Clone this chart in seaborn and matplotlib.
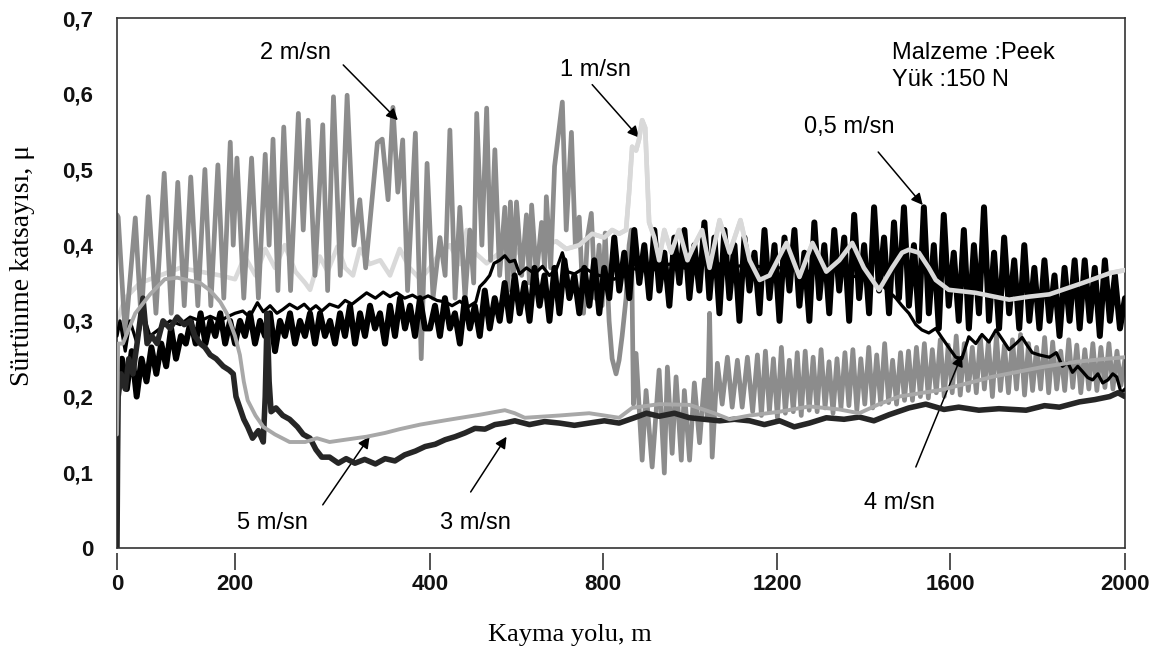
import numpy as np
import pandas as pd
import matplotlib
matplotlib.use("Agg")
import matplotlib.pyplot as plt
import seaborn as sns

# ---------------- axis definitions ----------------
x_ticks = [0, 200, 400, 800, 1200, 1600, 2000]
x_tick_labels = ["0", "200", "400", "800", "1200", "1600", "2000"]
# relative spacing of the printed x ticks (the source axis is not uniform)
x_tick_spacing = [0, 118, 313, 486, 660, 833, 1008]
y_ticks = [0, 0.1, 0.2, 0.3, 0.4, 0.5, 0.6, 0.7]
y_tick_labels = ["0", "0,1", "0,2", "0,3", "0,4", "0,5", "0,6", "0,7"]

# ---------------- series: 5 m/sn ----------------
x_5 = [0, 2, 10, 31, 56, 81, 102, 141, 158, 175, 186, 200, 205, 209, 213, 221, 229, 241, 256, 272,
       284, 297, 313, 335, 354, 369, 390, 439, 515, 573, 596, 619, 699, 768, 803, 837, 867, 929, 999, 1056,
       1091, 1137, 1206, 1275, 1344, 1390, 1436, 1482, 1581, 1643, 1696, 1758, 1811, 1889, 1942, 2000]
y_5 = [0.15, 0.27, 0.27, 0.31, 0.335, 0.355, 0.357, 0.35, 0.34, 0.325, 0.31, 0.28, 0.255, 0.22, 0.195, 0.175, 0.16, 0.15, 0.14, 0.14,
       0.145, 0.14, 0.143, 0.147, 0.152, 0.157, 0.163, 0.169, 0.176, 0.182, 0.178, 0.172, 0.175, 0.178, 0.175, 0.172, 0.185, 0.19, 0.189, 0.178,
       0.17, 0.175, 0.18, 0.187, 0.183, 0.178, 0.19, 0.2, 0.209, 0.218, 0.226, 0.233, 0.239, 0.246, 0.249, 0.252]

# ---------------- series: 3 m/sn ----------------
x_3 = [0, 1, 2, 7, 14, 20, 27, 34, 44, 51, 59, 68, 78, 90, 102, 114, 124, 132, 141, 149,
       158, 168, 180, 190, 197, 201, 205, 209, 213, 218, 224, 229, 231, 233, 235, 237, 242, 249, 256, 264,
       270, 277, 283, 289, 297, 306, 314, 323, 333, 344, 354, 364, 374, 385, 395, 412, 435, 458, 481, 504,
       527, 550, 573, 596, 630, 665, 699, 734, 768, 803, 837, 872, 900, 929, 964, 999, 1033, 1068, 1102, 1137,
       1171, 1206, 1240, 1275, 1314, 1355, 1390, 1424, 1459, 1505, 1544, 1586, 1620, 1666, 1712, 1774, 1816, 1850, 1896, 1931,
       1965, 1984, 2000]
y_3 = [0.0, 0.12, 0.2, 0.23, 0.21, 0.25, 0.23, 0.27, 0.33, 0.27, 0.28, 0.27, 0.3, 0.29, 0.305, 0.295, 0.3, 0.28, 0.27, 0.265,
       0.255, 0.25, 0.24, 0.235, 0.23, 0.2, 0.185, 0.17, 0.16, 0.145, 0.155, 0.14, 0.2, 0.31, 0.22, 0.18, 0.185, 0.175, 0.17, 0.16,
       0.15, 0.145, 0.13, 0.12, 0.12, 0.112, 0.118, 0.112, 0.117, 0.111, 0.118, 0.115, 0.123, 0.128, 0.134, 0.137, 0.143, 0.147, 0.152, 0.158,
       0.157, 0.163, 0.165, 0.168, 0.163, 0.167, 0.165, 0.162, 0.165, 0.168, 0.165, 0.172, 0.178, 0.174, 0.178, 0.172, 0.17, 0.168, 0.17, 0.168,
       0.163, 0.168, 0.16, 0.165, 0.172, 0.17, 0.173, 0.168, 0.176, 0.185, 0.19, 0.183, 0.186, 0.182, 0.184, 0.182, 0.188, 0.186, 0.193, 0.196,
       0.2, 0.205, 0.2]

# ---------------- series: 4 m/sn ----------------
x_4 = [0, 5, 14, 22, 34, 44, 56, 73, 90, 107, 124, 141, 158, 175, 186, 200, 208, 215, 223, 229,
       236, 243, 249, 256, 264, 271, 277, 283, 289, 297, 306, 313, 320, 328, 335, 344, 352, 359, 366, 374,
       382, 390, 398, 416, 435, 451, 469, 487, 506, 515, 527, 538, 548, 561, 573, 584, 596, 607, 623, 642,
       660, 676, 692, 706, 718, 734, 757, 780, 803, 826, 860, 906, 952, 999, 1045, 1091, 1137, 1183, 1229, 1275,
       1321, 1367, 1413, 1447, 1475, 1489, 1505, 1521, 1535, 1551, 1567, 1581, 1597, 1613, 1627, 1643, 1659, 1673, 1689, 1705,
       1719, 1735, 1751, 1765, 1776, 1788, 1804, 1827, 1843, 1857, 1869, 1880, 1892, 1903, 1915, 1926, 1938, 1949, 1961, 1972,
       1981, 1991, 2000]
y_4 = [0.28, 0.3, 0.26, 0.3, 0.27, 0.31, 0.28, 0.29, 0.3, 0.295, 0.305, 0.3, 0.306, 0.3, 0.305, 0.31, 0.313, 0.305, 0.324, 0.312,
       0.32, 0.31, 0.315, 0.322, 0.316, 0.322, 0.314, 0.32, 0.313, 0.322, 0.318, 0.327, 0.322, 0.33, 0.337, 0.33, 0.338, 0.332, 0.337, 0.33,
       0.334, 0.328, 0.333, 0.327, 0.325, 0.32, 0.326, 0.318, 0.325, 0.345, 0.352, 0.36, 0.376, 0.38, 0.386, 0.378, 0.38, 0.362, 0.37, 0.362,
       0.372, 0.36, 0.368, 0.39, 0.365, 0.362, 0.37, 0.362, 0.358, 0.355, 0.37, 0.365, 0.375, 0.368, 0.38, 0.37, 0.375, 0.368, 0.372, 0.365,
       0.37, 0.36, 0.355, 0.345, 0.33, 0.32, 0.31, 0.295, 0.288, 0.284, 0.29, 0.278, 0.265, 0.252, 0.25, 0.279, 0.27, 0.282, 0.272, 0.288,
       0.276, 0.262, 0.27, 0.278, 0.268, 0.258, 0.255, 0.252, 0.258, 0.24, 0.245, 0.232, 0.24, 0.233, 0.225, 0.222, 0.23, 0.218, 0.222, 0.23,
       0.226, 0.205, 0.21]

# ---------------- series: 1 m/sn ----------------
x_1 = [0, 14, 39, 73, 107, 141, 175, 200, 210, 221, 231, 241, 251, 262, 272, 277, 287, 295, 305, 313,
       321, 328, 338, 349, 359, 369, 379, 390, 400, 423, 446, 469, 485, 504, 531, 561, 584, 607, 630, 665,
       692, 715, 745, 775, 803, 821, 837, 853, 860, 867, 876, 883, 890, 897, 901, 906, 918, 929, 941, 957,
       975, 994, 1010, 1028, 1045, 1068, 1091, 1116, 1137, 1160, 1183, 1222, 1252, 1282, 1314, 1344, 1374, 1401, 1436, 1466,
       1489, 1505, 1528, 1551, 1567, 1597, 1659, 1735, 1781, 1827, 1903, 1965, 2000]
y_1 = [0.30, 0.33, 0.35, 0.36, 0.37, 0.365, 0.36, 0.355, 0.385, 0.36, 0.395, 0.37, 0.40, 0.365, 0.35, 0.341, 0.385, 0.365, 0.398, 0.37,
       0.36, 0.395, 0.375, 0.38, 0.36, 0.395, 0.37, 0.355, 0.37, 0.39, 0.40, 0.375, 0.42, 0.39, 0.376, 0.39, 0.38, 0.395, 0.385, 0.40,
       0.405, 0.395, 0.40, 0.415, 0.41, 0.42, 0.415, 0.42, 0.47, 0.53, 0.525, 0.54, 0.565, 0.555, 0.5, 0.43, 0.41, 0.38, 0.42, 0.39,
       0.42, 0.38, 0.40, 0.42, 0.37, 0.433, 0.39, 0.433, 0.38, 0.354, 0.36, 0.403, 0.358, 0.403, 0.365, 0.38, 0.403, 0.37, 0.341, 0.37,
       0.39, 0.394, 0.39, 0.37, 0.354, 0.341, 0.337, 0.328, 0.332, 0.335, 0.35, 0.363, 0.367]

# ---------------- series: 2 m/sn ----------------
x_2_head = [0, 2, 14, 31, 41, 53, 66, 80, 92, 103, 114, 125, 137, 149, 159, 171, 181, 192, 197, 202,
            209, 217, 224, 231, 235, 239, 244, 250, 257, 265, 270, 275, 282, 290, 295, 301, 308, 315, 322, 328,
            334, 346, 351, 357, 362, 367, 372, 377, 385, 391, 397, 407, 423, 435, 446, 458, 469, 481, 492, 501,
            508, 520, 531, 540, 550, 561, 573, 580, 586, 593, 600, 612, 623, 630, 635, 646, 658, 665, 669, 679,
            688, 706, 715, 727, 736, 745, 755, 764, 773, 782, 791, 798, 805, 814, 821, 830, 837, 844, 853, 860,
            865, 870, 876, 890, 899, 913, 929, 941, 948, 959, 968, 980, 987, 999, 1010, 1022, 1033, 1040, 1045, 1051,
            1063, 1074, 1086, 1097, 1109, 1120, 1132, 1144]
y_2_head = [0.44, 0.437, 0.28, 0.436, 0.30, 0.464, 0.31, 0.495, 0.31, 0.483, 0.32, 0.49, 0.32, 0.50, 0.32, 0.506, 0.33, 0.536, 0.40, 0.515,
            0.33, 0.515, 0.33, 0.52, 0.40, 0.54, 0.34, 0.556, 0.34, 0.574, 0.42, 0.565, 0.36, 0.559, 0.34, 0.596, 0.36, 0.598, 0.40, 0.46,
            0.37, 0.535, 0.54, 0.46, 0.582, 0.47, 0.539, 0.34, 0.548, 0.25, 0.508, 0.33, 0.41, 0.36, 0.552, 0.33, 0.45, 0.33, 0.42, 0.35,
            0.574, 0.40, 0.581, 0.38, 0.526, 0.36, 0.45, 0.34, 0.457, 0.36, 0.457, 0.36, 0.44, 0.35, 0.453, 0.36, 0.43, 0.37, 0.464, 0.37,
            0.504, 0.589, 0.42, 0.549, 0.40, 0.437, 0.31, 0.41, 0.442, 0.33, 0.40, 0.32, 0.416, 0.30, 0.25, 0.23, 0.248, 0.28, 0.33, 0.40,
            0.42, 0.19, 0.257, 0.116, 0.208, 0.107, 0.235, 0.099, 0.239, 0.125, 0.226, 0.116, 0.208, 0.116, 0.218, 0.139, 0.222, 0.17, 0.31, 0.12,
            0.244, 0.19, 0.252, 0.186, 0.248, 0.186, 0.252, 0.18]
# tail of 2 m/sn: regular oscillation, sampled evenly from 1155 m to 2000 m
y_2_tail = [0.255, 0.175, 0.26, 0.18, 0.25, 0.172, 0.265, 0.178, 0.248, 0.18, 0.258, 0.175, 0.26, 0.182, 0.252, 0.18,
            0.262, 0.185, 0.246, 0.178, 0.25, 0.185, 0.258, 0.188, 0.262, 0.182, 0.25, 0.19, 0.265, 0.185, 0.255, 0.19,
            0.27, 0.192, 0.248, 0.19, 0.258, 0.195,
            0.26, 0.195, 0.265, 0.2, 0.27, 0.198, 0.262, 0.205, 0.275, 0.2, 0.268, 0.205, 0.28, 0.202, 0.27, 0.208,
            0.265, 0.205, 0.278, 0.21, 0.272, 0.2, 0.28, 0.208, 0.268, 0.205, 0.275, 0.21, 0.282, 0.202, 0.27, 0.208,
            0.265, 0.21, 0.278, 0.205, 0.272, 0.21, 0.26, 0.208, 0.275, 0.212, 0.268, 0.205, 0.262, 0.21, 0.27, 0.208,
            0.265, 0.212, 0.27, 0.21, 0.26, 0.215, 0.25]
x_2_tail_range = (1155, 2000)

# ---------------- series: 0,5 m/sn (dense record, sampled evenly per axis segment) ----------------
y_05_seg1 = [0.20, 0.25, 0.21, 0.26, 0.20, 0.25, 0.22, 0.265, 0.23, 0.27, 0.24, 0.29, 0.25, 0.28, 0.27, 0.30,
             0.27, 0.31, 0.27, 0.30, 0.28, 0.31, 0.27, 0.30]                     # 0-200 m
y_05_seg2 = [0.27, 0.30, 0.28, 0.31, 0.27, 0.30, 0.28, 0.31, 0.26, 0.30, 0.28, 0.31, 0.27, 0.30, 0.28, 0.31,
             0.27, 0.31, 0.28, 0.30, 0.27, 0.31, 0.28, 0.32, 0.27, 0.31, 0.28, 0.32, 0.29, 0.31, 0.27, 0.32,
             0.28, 0.33, 0.29, 0.32, 0.28, 0.33, 0.29]                             # 200-400 m
y_05_seg3 = [0.29, 0.32, 0.28, 0.33, 0.29, 0.31, 0.27, 0.33, 0.29, 0.32, 0.28, 0.34, 0.29, 0.33, 0.30, 0.35,
             0.30, 0.36, 0.31, 0.35, 0.30, 0.37, 0.32, 0.36, 0.30, 0.37, 0.31, 0.38, 0.33, 0.36, 0.31, 0.37,
             0.32, 0.38, 0.31, 0.37,
             0.33, 0.41, 0.34, 0.39, 0.33, 0.42, 0.35, 0.40, 0.33, 0.42, 0.34, 0.39, 0.32, 0.41, 0.35, 0.42,
             0.33, 0.40, 0.34, 0.43, 0.33, 0.41,
             0.31, 0.42, 0.33, 0.40, 0.30, 0.41, 0.34, 0.39, 0.31, 0.42, 0.33, 0.40, 0.30, 0.41, 0.34, 0.42,
             0.32, 0.39, 0.30, 0.43, 0.33, 0.40, 0.31, 0.42, 0.34, 0.41, 0.30, 0.44, 0.33, 0.40, 0.31, 0.45,
             0.34, 0.41, 0.31, 0.43, 0.33, 0.45, 0.32, 0.40,
             0.30, 0.45, 0.31, 0.40, 0.29, 0.44, 0.32, 0.39, 0.30, 0.42, 0.29, 0.40, 0.31, 0.45, 0.30, 0.39,
             0.29, 0.41, 0.31, 0.38, 0.29, 0.40, 0.30,
             0.37, 0.29, 0.38, 0.30, 0.36, 0.28, 0.37, 0.30, 0.38, 0.29, 0.38, 0.30, 0.37, 0.28, 0.38, 0.30,
             0.36, 0.29, 0.33]                                                     # 400-2000 m

# ---------------- figure ----------------
sns.set_theme(style="white")
plt.rcParams["font.family"] = ["Liberation Sans", "DejaVu Sans"]

W, H = 1165, 655
fig = plt.figure(figsize=(W / 100, H / 100), dpi=100)
ax = fig.add_axes([117 / W, 107 / H, 1008 / W, 530 / H])


def draw(x, y, color, lw, z):
    df = pd.DataFrame({"x": np.asarray(x, float), "y": np.asarray(y, float)})
    sns.lineplot(data=df, x="x", y="y", ax=ax, color=color, linewidth=lw,
                 estimator=None, sort=False, zorder=z, solid_joinstyle="round",
                 solid_capstyle="round")


x_2 = np.concatenate([x_2_head, np.linspace(*x_2_tail_range, len(y_2_tail))])
y_2 = np.concatenate([y_2_head, y_2_tail])
x_05 = np.concatenate([np.linspace(0, 200, len(y_05_seg1), endpoint=False),
                       np.linspace(200, 400, len(y_05_seg2), endpoint=False),
                       np.linspace(400, 2000, len(y_05_seg3))])
y_05 = np.concatenate([y_05_seg1, y_05_seg2, y_05_seg3])

draw(x_1, y_1, "#d9d9d9", 3.3, 1)
draw(x_2, y_2, "#8c8c8c", 3.4, 2)
draw(x_05, y_05, "#000000", 4.3, 3)
draw(x_4, y_4, "#000000", 2.3, 4)
draw(x_3, y_3, "#262626", 4.0, 5)
draw(x_5, y_5, "#a8a8a8", 2.8, 6)
# 1 m/sn is drawn again above the black record where it crosses it (right-hand part)
draw(x_1[40:], y_1[40:], "#d9d9d9", 3.3, 7)

# non-uniform x axis as printed in the source
frac = np.array(x_tick_spacing, float) / x_tick_spacing[-1]
ax.set_xscale("function", functions=(lambda v: np.interp(v, x_ticks, frac),
                                     lambda v: np.interp(v, frac, x_ticks)))
ax.set_xlim(0, 2000)
ax.set_ylim(0, 0.7)
ax.set_xticks(x_ticks)
ax.set_xticklabels(x_tick_labels)
ax.set_yticks(y_ticks)
ax.set_yticklabels(y_tick_labels)
ax.minorticks_off()

frame_c = "#333333"
for s in ["left", "right", "top"]:
    ax.spines[s].set_color(frame_c)
    ax.spines[s].set_linewidth(1.2)
ax.spines["bottom"].set_position(("outward", 3.6))
ax.spines["bottom"].set_visible(False)
ax.axhline(0, color=frame_c, lw=1.2, clip_on=False, zorder=10)

ax.tick_params(axis="x", direction="out", length=12, width=1.2, color=frame_c,
               pad=3, labelsize=16, labelcolor="#111111", bottom=True)
ax.tick_params(axis="y", length=0, pad=17, labelsize=16, labelcolor="#111111")
for lab in ax.get_xticklabels() + ax.get_yticklabels():
    lab.set_fontweight("bold")

ax.set_xlabel("Kayma yolu, m", family="Liberation Serif", fontsize=19, color="black")
ax.set_ylabel("Sürtünme katsayısı, μ", family="Liberation Serif", fontsize=20, color="black")
ax.xaxis.label.set_va("center")
ax.yaxis.label.set_va("center")
ax.xaxis.set_label_coords(0.449, -0.164)
ax.yaxis.set_label_coords(-0.094, 0.534)

# annotations
tk = dict(fontsize=17, ha="center", va="center", color="black")
ap = dict(arrowstyle="-|>", color="black", lw=1.1, mutation_scale=17, shrinkA=0, shrinkB=0)
ax.text(262, 0.654, "2 m/sn", **tk)
ax.annotate("", xy=(367, 0.565), xytext=(311, 0.638), arrowprops=ap)
ax.text(782, 0.631, "1 m/sn", **tk)
ax.annotate("", xy=(883, 0.542), xytext=(775, 0.612), arrowprops=ap)
ax.text(1367, 0.556, "0,5 m/sn", **tk)
ax.annotate("", xy=(1537, 0.453), xytext=(1434, 0.523), arrowprops=ap)
ax.text(238, 0.033, "5 m/sn", **tk)
ax.annotate("", xy=(338, 0.147), xytext=(290, 0.057), arrowprops=ap)
ax.text(506, 0.033, "3 m/sn", **tk)
ax.annotate("", xy=(577, 0.147), xytext=(494, 0.074), arrowprops=ap)
ax.text(1482, 0.059, "4 m/sn", **tk)
ax.annotate("", xy=(1627, 0.255), xytext=(1521, 0.107), arrowprops=ap)
ax.text(1466, 0.654, "Malzeme :Peek", fontsize=17, ha="left", va="center", color="black")
ax.text(1466, 0.618, "Yük :150 N", fontsize=17, ha="left", va="center", color="black")

fig.savefig("out.png", dpi=100, facecolor="white")
